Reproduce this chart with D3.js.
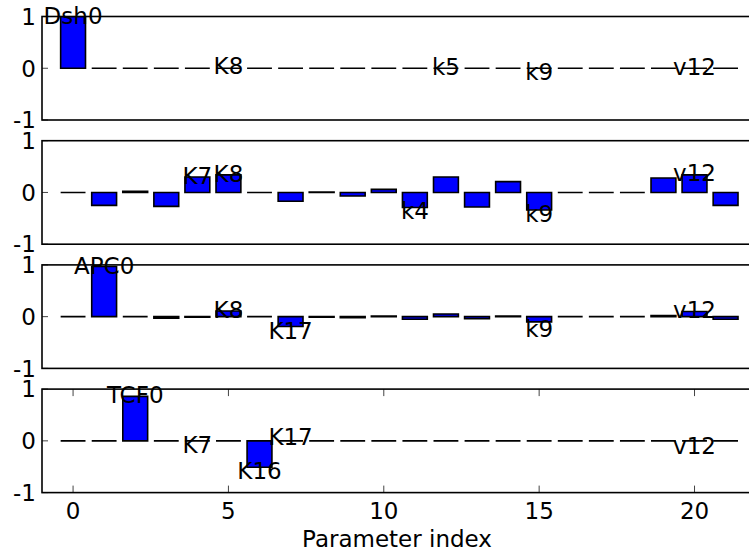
<!DOCTYPE html>
<html>
<head>
<meta charset="utf-8">
<script src="https://cdn.jsdelivr.net/npm/d3@7"></script>
<style>
  html, body { margin: 0; padding: 0; background: #fff; }
  svg { display: block; }
  text { font-family: "DejaVu Sans", sans-serif; }
</style>
</head>
<body>
<script>
// ---- data ----
const paramIndex = [0,1,2,3,4,5,6,7,8,9,10,11,12,13,14,15,16,17,18,19,20,21];

const dshValues = [1.0,0,0,0,0,0,0,0,0,0,0,0,0,0,0,0,0,0,0,0,0,0];
const axinValues = [0,-0.25,0.02,-0.27,0.30,0.34,0,-0.17,0.01,-0.07,0.06,-0.29,0.30,-0.28,0.21,-0.34,0,0,0,0.28,0.34,-0.25];
const apcValues = [0,0.97,0,-0.03,-0.01,0.11,0,-0.19,-0.01,-0.02,0.01,-0.05,0.05,-0.04,0.01,-0.10,0,0,0,0.02,0.10,-0.05];
const tcfValues = [0,0,0.86,0,0,0,-0.51,0,0,0,0,0,0,0,0,0,0,0,0,0,0,0];

const dshLabels = ["Dsh0","K8","k5","k9","v12"];
const dshLabelX = [0,5,12,15,20];
const dshLabelY = [1.01,0.04,0.02,-0.07,0.03];

const axinLabels = ["K7","K8","k4","k9","v12"];
const axinLabelX = [4,5,11,15,20];
const axinLabelY = [0.33,0.37,-0.36,-0.41,0.38];

const apcLabels = ["APC0","K8","K17","k9","v12"];
const apcLabelX = [1,5,7,15,20];
const apcLabelY = [0.99,0.14,-0.27,-0.23,0.14];

const tcfLabels = ["TCF0","K7","K16","K17","v12"];
const tcfLabelX = [2,4,6,7,20];
const tcfLabelY = [0.9,-0.08,-0.57,0.08,-0.09];

const yTickValues = [-1, 0, 1];
const yTickLabels = ["-1", "0", "1"];
const xTickValues = [0, 5, 10, 15, 20];
const xTickLabels = ["0", "5", "10", "15", "20"];
const xAxisTitle = "Parameter index";

const panels = [
  { values: dshValues, labels: dshLabels, lx: dshLabelX, ly: dshLabelY },
  { values: axinValues, labels: axinLabels, lx: axinLabelX, ly: axinLabelY },
  { values: apcValues, labels: apcLabels, lx: apcLabelX, ly: apcLabelY },
  { values: tcfValues, labels: tcfLabels, lx: tcfLabelX, ly: tcfLabelY }
];

// ---- layout ----
const W = 749, H = 557;
const FS = 23;
const left = 42, right = 752;
const top0 = 16.5, step = 124.2, ph = 103.5;
const barW = 0.8;

const svg = d3.select("body").append("svg").attr("width", W).attr("height", H);

const x = d3.scaleLinear().domain([-1, 21.85]).range([left, right]);

panels.forEach((p, i) => {
  const t = top0 + i * step;
  const y = d3.scaleLinear().domain([-1, 1]).range([t + ph, t]);
  const g = svg.append("g");
  const clipId = "clip" + i;
  svg.append("clipPath").attr("id", clipId)
    .append("rect").attr("x", left).attr("y", t).attr("width", right - left).attr("height", ph);

  const bars = g.append("g").attr("clip-path", `url(#${clipId})`);
  bars.selectAll("path").data(paramIndex).enter().append("path")
    .attr("d", d => {
      const x0 = x(d - barW / 2), x1 = x(d + barW / 2);
      const y0 = y(0), y1 = y(p.values[d]);
      return `M${x0},${y0}H${x1}V${y1}H${x0}Z`;
    })
    .attr("fill", "#0000ff")
    .attr("stroke", "#000")
    .attr("stroke-width", 1.6)
    .attr("stroke-linejoin", "miter");

  // annotations
  g.selectAll("text.lab").data(p.labels).enter().append("text")
    .attr("class", "lab")
    .attr("x", (d, k) => x(p.lx[k]))
    .attr("y", (d, k) => y(p.ly[k]))
    .attr("dy", "0.36em")
    .attr("text-anchor", "middle")
    .attr("font-size", FS)
    .attr("fill", "#000")
    .text(d => d);

  // y ticks (inward) and labels
  g.selectAll("line.yt").data(yTickValues).enter().append("line")
    .attr("x1", left).attr("x2", left + 6)
    .attr("y1", d => y(d)).attr("y2", d => y(d))
    .attr("stroke", "#444").attr("stroke-width", 1);
  g.selectAll("text.yl").data(yTickValues).enter().append("text")
    .attr("x", left - 6)
    .attr("y", d => y(d))
    .attr("dy", "0.36em")
    .attr("text-anchor", "end")
    .attr("font-size", FS)
    .attr("fill", "#000")
    .text((d, k) => yTickLabels[k]);

  // x ticks only on bottom panel
  if (i === panels.length - 1) {
    g.selectAll("line.xb").data(xTickValues).enter().append("line")
      .attr("x1", d => x(d)).attr("x2", d => x(d))
      .attr("y1", t + ph).attr("y2", t + ph - 7)
      .attr("stroke", "#444").attr("stroke-width", 1);
    g.selectAll("line.xt").data(xTickValues).enter().append("line")
      .attr("x1", d => x(d)).attr("x2", d => x(d))
      .attr("y1", t).attr("y2", t + 7)
      .attr("stroke", "#444").attr("stroke-width", 1);
    g.selectAll("text.xl").data(xTickValues).enter().append("text")
      .attr("x", d => x(d))
      .attr("y", t + ph + 26)
      .attr("text-anchor", "middle")
      .attr("font-size", FS)
      .attr("fill", "#000")
      .text((d, k) => xTickLabels[k]);
    svg.append("text")
      .attr("x", (left + right) / 2)
      .attr("y", t + ph + 54)
      .attr("text-anchor", "middle")
      .attr("font-size", FS)
      .attr("fill", "#000")
      .text(xAxisTitle);
  }

  // frame
  g.append("rect")
    .attr("x", left).attr("y", t).attr("width", right - left).attr("height", ph)
    .attr("fill", "none").attr("stroke", "#000").attr("stroke-width", 1.6);
});
</script>
</body>
</html>
